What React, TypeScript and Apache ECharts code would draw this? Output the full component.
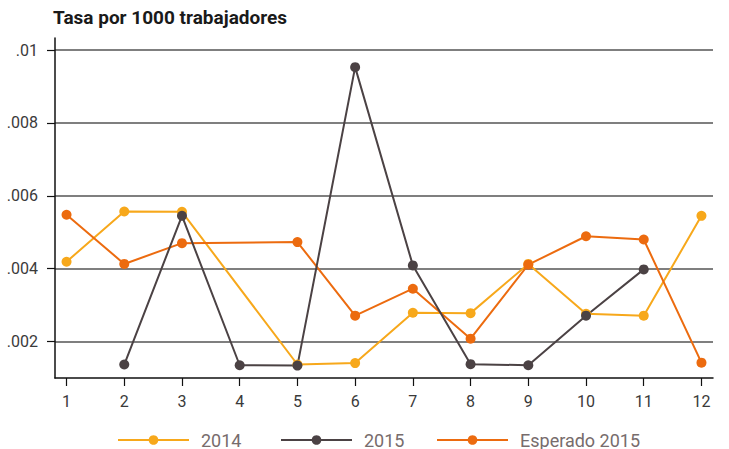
import React, { useEffect, useRef } from "react";
import * as echarts from "echarts";

const months = [1, 2, 3, 4, 5, 6, 7, 8, 9, 10, 11, 12];
const s2014: (number | null)[] = [0.00419, 0.00557, 0.00556, null, 0.00137, 0.00141, 0.00279, 0.00278, 0.00413, 0.00276, 0.00271, 0.00545];
const s2015: (number | null)[] = [null, 0.00137, 0.00545, 0.00135, 0.00134, 0.00953, 0.00409, 0.00138, 0.00135, 0.00271, 0.00398, null];
const sEsperado: (number | null)[] = [0.00548, 0.00413, 0.0047, null, 0.00473, 0.00271, 0.00345, 0.00208, 0.00411, 0.00489, 0.0048, 0.00142];
const yTicks = [0.002, 0.004, 0.006, 0.008, 0.01];

const FONT = "Roboto, 'Noto Sans', sans-serif";

function toPairs(vals: (number | null)[]) {
  return months
    .map((m, i) => [m, vals[i]] as [number, number | null])
    .filter((d) => d[1] !== null);
}

export default function App() {
  const ref = useRef<HTMLDivElement>(null);
  useEffect(() => {
    if (!ref.current) return;
    const chart = echarts.init(ref.current, null, { renderer: "svg" });
    const mkSeries = (name: string, vals: (number | null)[], color: string) => ({
      name,
      type: "line",
      data: toPairs(vals),
      symbol: "circle",
      symbolSize: 10,
      itemStyle: { color },
      lineStyle: { color, width: 2 },
    });
    const legendBase = {
      top: 426,
      itemWidth: 71,
      itemHeight: 12,
      textStyle: { fontFamily: FONT, fontSize: 18, color: "#776c6c", padding: [0, 0, 0, 7] },
    };
    chart.setOption({
      animation: false,
      title: {
        text: "Tasa por 1000 trabajadores",
        left: 48,
        top: 3,
        textStyle: { fontFamily: FONT, fontSize: 19, fontWeight: "bold", color: "#1a1a1a" },
      },
      legend: [
        { ...legendBase, left: 112, data: ["2014"] },
        { ...legendBase, left: 275, data: ["2015"] },
        { ...legendBase, left: 431, data: ["Esperado 2015"] },
      ],
      grid: { left: 55, right: 16, top: 38, bottom: 71, containLabel: false },
      xAxis: {
        type: "value",
        min: 0.8,
        max: 12.2,
        axisLine: { show: true, lineStyle: { color: "#111", width: 1.5 } },
        axisTick: { show: true, customValues: months, length: 8, lineStyle: { color: "#111", width: 1.2 } },
        axisLabel: { customValues: months, margin: 15, fontFamily: FONT, fontSize: 16, color: "#3a3a3a" },
        splitLine: { show: false },
      },
      yAxis: {
        type: "value",
        min: 0.001,
        max: 0.01033,
        axisLine: { show: true, lineStyle: { color: "#111", width: 1.5 } },
        axisTick: { show: true, customValues: yTicks, length: 8, lineStyle: { color: "#111", width: 1.2 } },
        axisLabel: {
          customValues: yTicks,
          margin: 17,
          fontFamily: FONT,
          fontSize: 16,
          color: "#3a3a3a",
          formatter: (v: number) => String(+v.toFixed(3)).replace(/^0/, ""),
        },
        splitLine: { show: true, lineStyle: { color: "#555", width: 1.5 } },
      },
      series: [
        mkSeries("2014", s2014, "#F7A81B"),
        mkSeries("Esperado 2015", sEsperado, "#EC6B0F"),
        mkSeries("2015", s2015, "#4B4244"),
      ],
    });
    return () => chart.dispose();
  }, []);
  return <div ref={ref} style={{ position: "absolute", left: 0, top: 0, width: 729, height: 449 }} />;
}
